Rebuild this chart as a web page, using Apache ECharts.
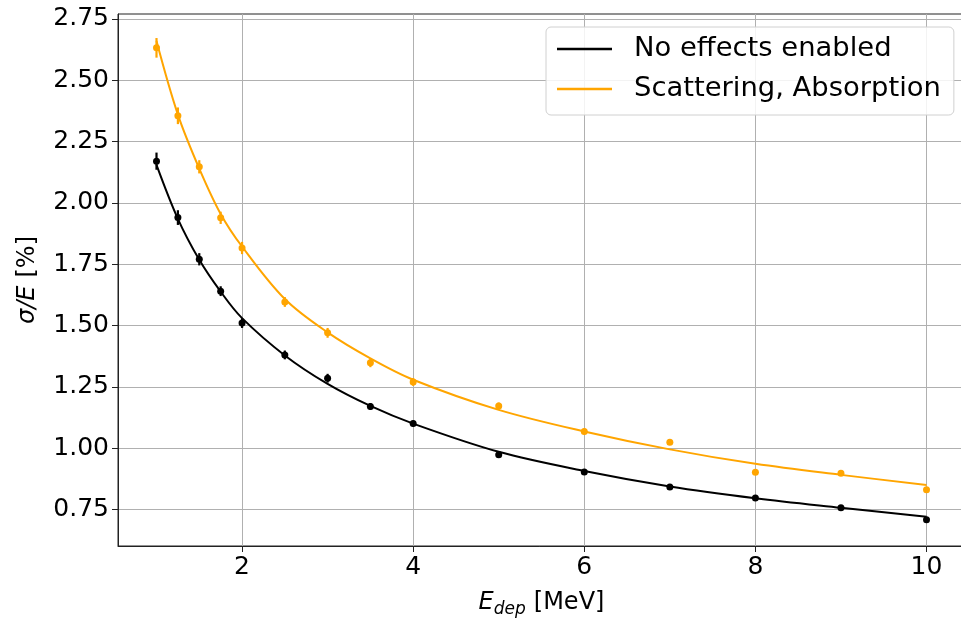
<!DOCTYPE html>
<html><head><meta charset="utf-8">
<script src="https://cdn.jsdelivr.net/npm/echarts@6/dist/echarts.min.js"></script>
<style>html,body{margin:0;padding:0;background:#fff;overflow:hidden}#c{width:961px;height:619px}</style>
</head><body><div id="c"></div>
<script>
// Data points
const energies = [1, 1.25, 1.5, 1.75, 2, 2.5, 3, 3.5, 4, 5, 6, 7, 8, 9, 10];
const noEffects = [2.17, 1.94, 1.77, 1.64, 1.51, 1.38, 1.285, 1.17, 1.10, 0.973, 0.903, 0.842, 0.797, 0.757, 0.708];
const noEffectsErr = [0.035, 0.03, 0.025, 0.02, 0.02, 0.018, 0.018, 0.014, 0.012, 0.01, 0.008, 0.007, 0.006, 0.006, 0.005];
const scattAbs = [2.632, 2.355, 2.147, 1.939, 1.816, 1.596, 1.47, 1.348, 1.27, 1.172, 1.068, 1.024, 0.902, 0.898, 0.830];
const scattAbsErr = [0.04, 0.034, 0.027, 0.025, 0.025, 0.02, 0.02, 0.018, 0.016, 0.014, 0.012, 0.011, 0.01, 0.01, 0.009];
// Fit curves
const fitX = [1, 1.25, 1.5, 1.75, 2, 2.5, 3, 3.5, 4, 5, 6, 7, 8, 9, 10];
const fitNoEffects = [2.155, 1.935, 1.768, 1.638, 1.53, 1.378, 1.262, 1.172, 1.100, 0.985, 0.907, 0.844, 0.796, 0.757, 0.720];
const fitScattAbs = [2.66, 2.36, 2.14, 1.955, 1.822, 1.608, 1.472, 1.366, 1.279, 1.156, 1.068, 0.995, 0.936, 0.891, 0.850];
// Ticks
const xTicks = [2, 4, 6, 8, 10];
const yTicks = [0.75, 1.00, 1.25, 1.50, 1.75, 2.00, 2.25, 2.50, 2.75];

const names = ['No effects enabled', 'Scattering, Absorption'];
const colors = ['#000000', '#FFA500'];
const FONT = '"DejaVu Sans", sans-serif';

function pts(ys) { return energies.map((x, i) => [x, ys[i]]); }
function errs(ys, es) { return energies.map((x, i) => [x, ys[i], es[i]]); }
function fit(ys) { return fitX.map((x, i) => [x, ys[i]]); }

function errRender(color) {
  return function (params, api) {
    const x = api.value(0), y = api.value(1), e = api.value(2);
    const p1 = api.coord([x, y - e]);
    const p2 = api.coord([x, y + e]);
    return { type: 'line', shape: { x1: p1[0], y1: p1[1], x2: p2[0], y2: p2[1] },
      style: { stroke: color, lineWidth: 2.2 } };
  };
}

const chart = echarts.init(document.getElementById('c'), null, { renderer: 'canvas', width: 961, height: 619 });
chart.setOption({
  animation: false,
  backgroundColor: '#fff',
  grid: { left: 118, width: 847, top: 14, height: 532, outerBoundsMode: 'none', containLabel: false,
    show: true, borderColor: '#222', borderWidth: 1, backgroundColor: 'transparent' },
  xAxis: {
    type: 'value', min: 0.55, max: 10.45,
    name: '{i|E}{s|dep}{n|[MeV]}', nameLocation: 'middle', nameGap: 41,
    nameTextStyle: { rich: {
      i: { fontFamily: FONT, fontStyle: 'italic', fontSize: 24, color: '#000' },
      s: { fontFamily: FONT, fontStyle: 'italic', fontSize: 17, color: '#000', padding: [14, 0, 0, 0] },
      n: { fontFamily: FONT, fontSize: 24, color: '#000', padding: [0, 0, 0, 8] } } },
    axisLine: { show: true, onZero: false, lineStyle: { color: '#222', width: 1 } },
    axisTick: { show: true, length: 6, lineStyle: { color: '#222' }, customValues: xTicks },
    axisLabel: { customValues: xTicks, fontFamily: FONT, fontSize: 25, color: '#000', margin: 9 },
    splitLine: { show: true, lineStyle: { color: '#b0b0b0', width: 1 } }
  },
  yAxis: {
    type: 'value', min: 0.601, max: 2.77,
    name: '{i|σ/E}{n|[%]}', nameLocation: 'middle', nameGap: 78,
    nameTextStyle: { rich: {
      i: { fontFamily: FONT, fontStyle: 'italic', fontSize: 24, color: '#000' },
      n: { fontFamily: FONT, fontSize: 24, color: '#000', padding: [0, 0, 0, 8] } } },
    axisLine: { show: true, onZero: false, lineStyle: { color: '#222', width: 1 } },
    axisTick: { show: true, length: 6, lineStyle: { color: '#222' }, customValues: yTicks },
    axisLabel: { customValues: yTicks, formatter: v => v.toFixed(2), fontFamily: FONT, fontSize: 25, color: '#000', margin: 9 },
    splitLine: { show: true, lineStyle: { color: '#b0b0b0', width: 1 } }
  },
  legend: {
    data: names, orient: 'vertical', left: 546, top: 27,
    padding: [7, 13, 11, 11], itemGap: 10, itemWidth: 55, itemHeight: 2.5, icon: 'rect',
    backgroundColor: 'rgba(255,255,255,0.85)', borderColor: '#d0d0d0', borderWidth: 1, borderRadius: 5,
    textStyle: { fontFamily: FONT, fontSize: 27.4, color: '#000', lineHeight: 30, padding: [0, 0, 0, 17] }
  },
  series: [
    { name: names[0], type: 'line', data: fit(fitNoEffects), smooth: 0.35, showSymbol: false, symbol: 'none',
      lineStyle: { color: colors[0], width: 2 }, itemStyle: { color: colors[0] }, z: 2 },
    { name: names[1], type: 'line', data: fit(fitScattAbs), smooth: 0.35, showSymbol: false, symbol: 'none',
      lineStyle: { color: colors[1], width: 2 }, itemStyle: { color: colors[1] }, z: 2 },
    { name: 'err0', type: 'custom', data: errs(noEffects, noEffectsErr), renderItem: errRender(colors[0]), z: 3 },
    { name: 'err1', type: 'custom', data: errs(scattAbs, scattAbsErr), renderItem: errRender(colors[1]), z: 3 },
    { name: 'pts0', type: 'scatter', data: pts(noEffects), symbolSize: 7, itemStyle: { color: colors[0], opacity: 1 }, z: 4 },
    { name: 'pts1', type: 'scatter', data: pts(scattAbs), symbolSize: 7, itemStyle: { color: colors[1], opacity: 1 }, z: 4 }
  ]
});
</script></body></html>
